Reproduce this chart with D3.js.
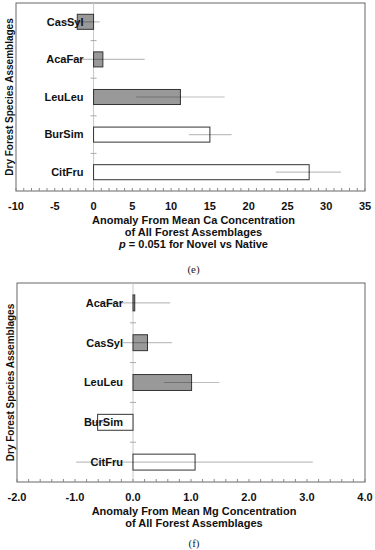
<!DOCTYPE html>
<html>
<head>
<meta charset="utf-8">
<script src="https://cdn.jsdelivr.net/npm/d3@7.9.0/dist/d3.min.js"></script>
<style>
  body { margin: 0; background: #fff; }
  svg { display: block; font-family: "Liberation Sans", Arial, Helvetica, sans-serif; }
</style>
</head>
<body>
<svg id="chart" width="375" height="550"></svg>
<script>
// panel (e): Ca
const caSpecies = ['CasSyl', 'AcaFar', 'LeuLeu', 'BurSim', 'CitFru'];
const caGroup = ['Novel', 'Novel', 'Novel', 'Native', 'Native'];
const caMean = [-2.1, 1.2, 11.2, 15.0, 27.8];
const caLow = [-5.0, -4.2, 5.5, 12.3, 23.5];
const caHigh = [0.8, 6.6, 16.9, 17.8, 31.9];
const caTicks = [-10, -5, 0, 5, 10, 15, 20, 25, 30, 35];
const caTitle = ['Anomaly From Mean Ca Concentration', 'of All Forest Assemblages'];

// panel (f): Mg
const mgSpecies = ['AcaFar', 'CasSyl', 'LeuLeu', 'BurSim', 'CitFru'];
const mgGroup = ['Novel', 'Novel', 'Novel', 'Native', 'Native'];
const mgMean = [0.03, 0.25, 1.01, -0.61, 1.07];
const mgLow = [-0.58, -0.17, 0.53, -0.83, -0.98];
const mgHigh = [0.64, 0.67, 1.49, -0.39, 3.10];
const mgTicks = [-2, -1, 0, 1, 2, 3, 4];
const mgTitle = ['Anomaly From Mean Mg Concentration', 'of All Forest Assemblages'];

const svg = d3.select('#chart');

function drawPanel(opt) {
  const g = svg.append('g');
  const rows = opt.species.map((s, i) => ({
    name: s, group: opt.group[i], mean: opt.mean[i], lo: opt.low[i], hi: opt.high[i]
  }));

  const x = d3.scaleLinear().domain(opt.domain).range([opt.left, opt.right]);
  const y = d3.scaleBand().domain(opt.species).range([opt.top, opt.bottom]).paddingInner(0.6).paddingOuter(0.3);

  // frame
  g.append('rect')
    .attr('x', opt.left).attr('y', opt.top)
    .attr('width', opt.right - opt.left).attr('height', opt.bottom - opt.top)
    .attr('fill', 'none').attr('stroke', '#666').attr('stroke-width', 1);

  // zero line
  g.append('line')
    .attr('x1', x(0)).attr('x2', x(0))
    .attr('y1', opt.top).attr('y2', opt.bottom)
    .attr('stroke', '#c8c8c8').attr('stroke-width', 1);

  // small separators between categories
  const step = y.step();
  g.selectAll('.sep')
    .data(opt.species.slice(1))
    .join('line')
    .attr('x1', x(0) - 3).attr('x2', x(0) + 3)
    .attr('y1', d => y(d) - step * 0.3)
    .attr('y2', d => y(d) - step * 0.3)
    .attr('stroke', '#aaa');

  // bottom ticks (inward)
  const minor = d3.range(opt.domain[0], opt.domain[1] + opt.minor / 2, opt.minor);
  g.selectAll('.tick')
    .data(minor)
    .join('line')
    .attr('x1', d => x(d)).attr('x2', d => x(d))
    .attr('y1', opt.bottom).attr('y2', opt.bottom - 3)
    .attr('stroke', '#888');

  // bars
  g.selectAll('.bar')
    .data(rows)
    .join('rect')
    .attr('x', d => x(Math.min(0, d.mean)))
    .attr('width', d => Math.max(1.5, Math.abs(x(d.mean) - x(0))))
    .attr('y', d => y(d.name))
    .attr('height', y.bandwidth())
    .attr('fill', d => d.group === 'Novel' ? '#999' : '#fff')
    .attr('stroke', '#333')
    .attr('stroke-width', 1);

  // error lines
  g.selectAll('.err')
    .data(rows)
    .join('line')
    .attr('x1', d => x(d.lo)).attr('x2', d => x(d.hi))
    .attr('y1', d => y(d.name) + y.bandwidth() / 2)
    .attr('y2', d => y(d.name) + y.bandwidth() / 2)
    .attr('stroke', '#000').attr('stroke-opacity', 0.25).attr('stroke-width', 1.2);

  // category labels
  g.selectAll('.lab')
    .data(rows)
    .join('text')
    .attr('x', x(0) - 10)
    .attr('y', d => y(d.name) + y.bandwidth() / 2)
    .attr('dy', '0.35em')
    .attr('text-anchor', 'end')
    .attr('font-size', 11).attr('font-weight', 'bold')
    .attr('fill', '#111')
    .text(d => d.name);

  // tick labels
  g.selectAll('.tl')
    .data(opt.ticks)
    .join('text')
    .attr('x', d => x(d))
    .attr('y', opt.bottom + 19)
    .attr('text-anchor', 'middle')
    .attr('font-size', 11).attr('font-weight', 'bold')
    .attr('fill', '#111')
    .text(d => opt.fmt(d));

  // axis title
  const cx = (opt.left + opt.right) / 2 + 3;
  opt.title.forEach((t, i) => {
    g.append('text')
      .attr('x', cx).attr('y', opt.bottom + 33 + i * 12)
      .attr('text-anchor', 'middle')
      .attr('font-size', 11).attr('font-weight', 'bold')
      .attr('fill', '#111')
      .text(t);
  });
  if (opt.pline) {
    const t = g.append('text')
      .attr('x', cx).attr('y', opt.bottom + 33 + opt.title.length * 12)
      .attr('text-anchor', 'middle')
      .attr('font-size', 11).attr('font-weight', 'bold')
      .attr('fill', '#111');
    t.append('tspan').attr('font-style', 'italic').text('p');
    t.append('tspan').text(' = 0.051 for Novel vs Native');
  }

  // y title
  const my = (opt.top + opt.bottom) / 2;
  g.append('text')
    .attr('transform', `translate(${opt.ylx},${my}) rotate(-90)`)
    .attr('text-anchor', 'middle')
    .attr('dy', '0.35em')
    .attr('font-size', 10).attr('font-weight', 'bold')
    .attr('fill', '#111')
    .text('Dry Forest Species Assemblages');

  // caption
  g.append('text')
    .attr('x', cx).attr('y', opt.capY)
    .attr('text-anchor', 'middle')
    .attr('font-family', '"Liberation Serif", "Times New Roman", serif')
    .attr('font-size', 11)
    .attr('fill', '#222')
    .text(opt.caption);
}

drawPanel({
  species: caSpecies, group: caGroup, mean: caMean, low: caLow, high: caHigh,
  domain: [-10, 35], ticks: caTicks, minor: 1, fmt: d => String(d),
  left: 16, right: 365, top: 3, bottom: 191,
  title: caTitle, pline: true, ylx: 9, capY: 273, caption: '(e)'
});

drawPanel({
  species: mgSpecies, group: mgGroup, mean: mgMean, low: mgLow, high: mgHigh,
  domain: [-2, 4], ticks: mgTicks, minor: 0.2, fmt: d => d.toFixed(1),
  left: 17, right: 365, top: 283, bottom: 482,
  title: mgTitle, pline: false, ylx: 10, capY: 547, caption: '(f)'
});
</script>
</body>
</html>
